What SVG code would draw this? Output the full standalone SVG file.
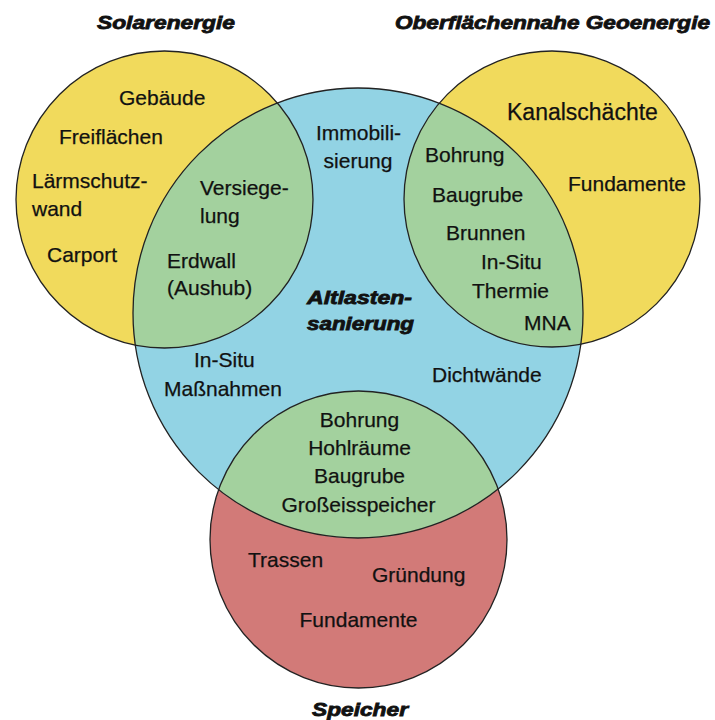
<svg xmlns="http://www.w3.org/2000/svg" width="715" height="720" viewBox="0 0 715 720">
<style>
.lbl{font-family:"Liberation Sans",Arial,sans-serif;font-size:21px;fill:#111;stroke:#111;stroke-width:0.25}
.ttl{font-family:"Liberation Sans",Arial,sans-serif;font-size:18px;font-weight:bold;font-style:italic;fill:#111;stroke:#111;stroke-width:0.8}
.ring{fill:none;stroke:#222;stroke-width:1.3}
.yellow{fill:#F1DA5C}
.blue{fill:#92D3E4}
.green{fill:#A3D19E}
.red{fill:#D27A78}
</style>
<defs>
<circle id="cSolar" cx="164.5" cy="199.5" r="148.5"/>
<circle id="cGeo" cx="552" cy="199" r="148"/>
<circle id="cAlt" cx="358" cy="313" r="225"/>
<circle id="cSp" cx="358.5" cy="539.5" r="148.5"/>
<clipPath id="clipSolar"><use href="#cSolar"/></clipPath>
<clipPath id="clipGeo"><use href="#cGeo"/></clipPath>
<clipPath id="clipSp"><use href="#cSp"/></clipPath>
</defs>
<rect width="715" height="720" fill="#fff"/>
<g id="fills">
<use href="#cSolar" class="yellow"/>
<use href="#cGeo" class="yellow"/>
<use href="#cSp" class="red"/>
<use href="#cAlt" class="blue"/>
<use href="#cAlt" class="green" clip-path="url(#clipSolar)"/>
<use href="#cAlt" class="green" clip-path="url(#clipGeo)"/>
<use href="#cAlt" class="green" clip-path="url(#clipSp)"/>
</g>
<g id="outlines">
<use href="#cSolar" class="ring"/>
<use href="#cGeo" class="ring"/>
<use href="#cAlt" class="ring"/>
<use href="#cSp" class="ring"/>
</g>
<g id="solarenergie">
<text class="ttl" x="97" y="29" textLength="138" lengthAdjust="spacingAndGlyphs">Solarenergie</text>
<text class="lbl" x="119" y="105">Gebäude</text>
<text class="lbl" x="59" y="144">Freiflächen</text>
<text class="lbl" x="32" y="188">Lärmschutz-</text>
<text class="lbl" x="32" y="216">wand</text>
<text class="lbl" x="47" y="262">Carport</text>
</g>
<g id="solar-altlasten">
<text class="lbl" x="200" y="195">Versiege-</text>
<text class="lbl" x="200" y="223">lung</text>
<text class="lbl" x="167" y="268">Erdwall</text>
<text class="lbl" x="167" y="295">(Aushub)</text>
</g>
<g id="geoenergie">
<text class="ttl" x="395" y="29" textLength="315" lengthAdjust="spacingAndGlyphs">Oberflächennahe Geoenergie</text>
<text class="lbl" x="507" y="120" style="font-size:23px">Kanalschächte</text>
<text class="lbl" x="568" y="191">Fundamente</text>
</g>
<g id="geo-altlasten">
<text class="lbl" x="425" y="162">Bohrung</text>
<text class="lbl" x="432" y="202">Baugrube</text>
<text class="lbl" x="446" y="240">Brunnen</text>
<text class="lbl" x="481" y="269">In-Situ</text>
<text class="lbl" x="472" y="298">Thermie</text>
<text class="lbl" x="524" y="330">MNA</text>
</g>
<g id="altlastensanierung">
<text class="lbl" x="358.5" y="140" text-anchor="middle">Immobili-</text>
<text class="lbl" x="358" y="168" text-anchor="middle">sierung</text>
<text class="ttl" x="307" y="304" textLength="105" lengthAdjust="spacingAndGlyphs">Altlasten-</text>
<text class="ttl" x="307" y="330" textLength="107" lengthAdjust="spacingAndGlyphs">sanierung</text>
<text class="lbl" x="194" y="367">In-Situ</text>
<text class="lbl" x="164" y="396">Maßnahmen</text>
<text class="lbl" x="432" y="382">Dichtwände</text>
</g>
<g id="altlasten-speicher">
<text class="lbl" x="359.5" y="427" text-anchor="middle">Bohrung</text>
<text class="lbl" x="359.5" y="455" text-anchor="middle">Hohlräume</text>
<text class="lbl" x="359.5" y="483" text-anchor="middle">Baugrube</text>
<text class="lbl" x="358.5" y="512" text-anchor="middle">Großeisspeicher</text>
</g>
<g id="speicher">
<text class="lbl" x="248" y="567">Trassen</text>
<text class="lbl" x="372" y="582">Gründung</text>
<text class="lbl" x="358.5" y="627" text-anchor="middle">Fundamente</text>
<text class="ttl" x="312" y="716" textLength="96" lengthAdjust="spacingAndGlyphs">Speicher</text>
</g>
</svg>
